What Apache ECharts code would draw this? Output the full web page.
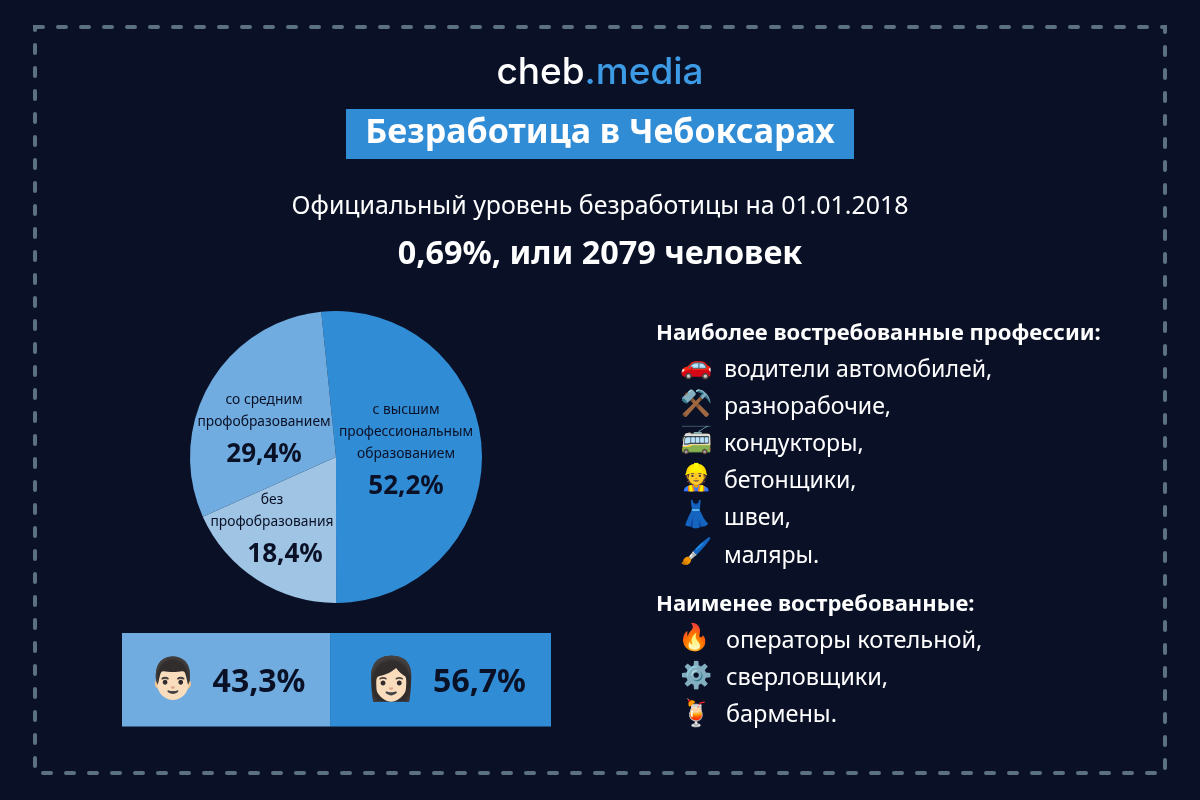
<!DOCTYPE html>
<html><head><meta charset="utf-8">
<style>html,body{margin:0;padding:0;background:#0a1127}#c{width:1200px;height:800px}</style>
<script src="https://cdn.jsdelivr.net/npm/echarts@6/dist/echarts.min.js"></script></head>
<body><div id="c"></div>
<script>
const sliceShares=[51.6,18.3,30.1];
const sliceNames=['с высшим профессиональным образованием','без профобразования','со средним профобразованием'];
const sliceLabels=['52,2%','18,4%','29,4%'];
const genderShares=[48.5,51.5];
const genderLabels=['43,3%','56,7%'];
const genderIcons=['👨🏻','👩🏻'];
const demanded=['водители автомобилей,','разнорабочие,','кондукторы,','бетонщики,','швеи,','маляры.'];
const demandedIcons=['🚗','⚒️','🚎','👷','👗','🖌️'];
const undemanded=['операторы котельной,','сверловщики,','бармены.'];
const undemandedIcons=['🔥','⚙️','🍹'];
const BG='#0a1127',C1='#318cd6',C2='#70acdf',C3='#9fc4e4',FF='"Noto Sans",sans-serif';
const graphics=[];
const T=(text,x,y,size,weight,fill,align)=>graphics.push({type:'text',z:10,x,y,style:{text,fontFamily:FF,fontSize:size,fontWeight:weight,fill:fill||'#fff',align:align||'left',verticalAlign:'middle'}});
graphics.push({type:'rect',shape:{x:35,y:27,width:1130,height:746},style:{fill:'none',stroke:'#5b7080',lineWidth:4,lineCap:'round',lineDash:[8,15]}});
graphics.push({type:'text',x:600,y:73,style:{text:'{a|cheb}{b|.media}',align:'center',verticalAlign:'middle',rich:{a:{fontFamily:'Inter',fontSize:37,fontWeight:500,fill:'#fff'},b:{fontFamily:'Inter',fontSize:37,fontWeight:500,fill:'#3d9be6'}}}});
graphics.push({type:'rect',shape:{x:346,y:109,width:508,height:50},style:{fill:C1}});
T('Безработица в Чебоксарах',600,133,34,700,'#fff','center');
T('Официальный уровень безработицы на 01.01.2018',600,207,24.9,400,'#fff','center');
T('0,69%, или 2079 человек',600,255,32.4,700,'#fff','center');
T('Наиболее востребованные профессии:',656,334,22,700);
demanded.forEach((t,i)=>{T(demandedIcons[i],696,367+i*37.2,26,400,'#fff','center');T(t,724,370+i*37.2,23.1,400);});
T('Наименее востребованные:',656,605,22,700);
undemanded.forEach((t,i)=>{T(undemandedIcons[i],[694,696,696][i],639+i*38,26,400,'#fff','center');T(t,726,641+i*37,23.5,400);});
T(genderIcons[0],173,681,40,400,'#fff','center');
T(genderIcons[1],391,681,42,400,'#fff','center');
const rich={n:{fontFamily:FF,fontSize:13.8,lineHeight:22,color:BG},v:{fontFamily:FF,fontSize:26,fontWeight:700,lineHeight:44,color:BG},s:{width:26,lineHeight:44}};
const labelText=[['с высшим','профессиональным','образованием'],['без','профобразования'],['со средним','профобразованием']];
const labelPos=[[406,454],[272,533],[264,433]];
const colors=[C1,C3,C2];
const pieData=sliceShares.map((v,i)=>({value:v,name:sliceNames[i],itemStyle:{color:colors[i]},
  label:{show:true,formatter:labelText[i].map(s=>'{n|'+s+'}').join('\n')+'\n'+(i===1?'{s|}':'')+'{v|'+sliceLabels[i]+'}'}}));
const chart=echarts.init(document.getElementById('c'),null,{renderer:'canvas'});
chart.setOption({backgroundColor:BG,animation:false,graphic:{elements:graphics},
 grid:{left:122,top:633,width:429,height:93.5},
 xAxis:{type:'value',min:0,max:100,show:false},yAxis:{type:'category',data:['g'],show:false},
 series:[
  {type:'pie',center:[336,457],radius:[0,146],startAngle:95.8,clockwise:true,avoidLabelOverlap:false,minShowLabelAngle:0,data:pieData,
   label:{show:true,position:'inside',rich,align:'center'},labelLine:{show:false},emphasis:{disabled:true},
   labelLayout:p=>({x:labelPos[p.dataIndex][0],y:labelPos[p.dataIndex][1],align:'center',verticalAlign:'middle',hideOverlap:false})},
  ...genderShares.map((v,i)=>({type:'bar',stack:'g',barWidth:'100%',data:[v],itemStyle:{color:[C2,C1][i]},z:1,
   label:{show:true,position:'inside',offset:[[33,39][i],3],formatter:genderLabels[i],fontFamily:FF,fontSize:32,fontWeight:700,color:BG}}))
 ]});
</script></body></html>
